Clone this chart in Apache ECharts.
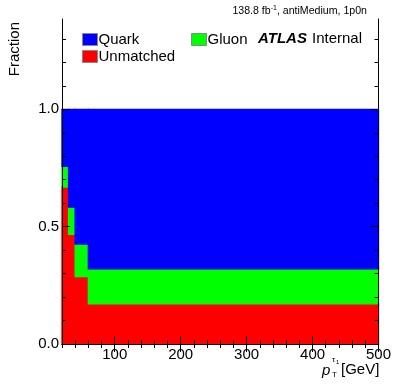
<!DOCTYPE html>
<html><head><meta charset="utf-8">
<script src="https://cdn.jsdelivr.net/npm/echarts@6/dist/echarts.min.js"></script>
<style>html,body{margin:0;padding:0;background:#fff}#c{width:394px;height:384px}</style>
</head><body><div id="c"></div>
<script>
// ---- data ----
const binEdges = [20, 30, 40, 60, 500];
const unmatched = [0.669, 0.467, 0.287, 0.171];
const gluon = [0.088, 0.117, 0.139, 0.150];
const quark = [0.243, 0.416, 0.574, 0.679];
const xMajorTicks = [100, 200, 300, 400, 500];
const xMinorTicks = [20, 40, 60, 80, 100, 120, 140, 160, 180, 200, 220, 240, 260, 280, 300, 320, 340, 360, 380, 400, 420, 440, 460, 480, 500];
const yMajorTicks = [0, 0.5, 1.0];
const yMinorTicks = [0, 0.1, 0.2, 0.3, 0.4, 0.5, 0.6, 0.7, 0.8, 0.9, 1.0, 1.1, 1.2, 1.3];
const xMin = 20, xMax = 500, yMin = 0, yMax = 1.385;

const FONT = 'Liberation Sans, Arial, sans-serif';

function stackData(layers, idx) {
  const out = [];
  for (let i = 0; i < binEdges.length - 1; i++) {
    let base = 0;
    for (let k = 0; k < idx; k++) base += layers[k][i];
    out.push([binEdges[i], binEdges[i + 1], base, base + layers[idx][i]]);
  }
  return out;
}
const layers = [unmatched, gluon, quark];

function renderBin(params, api) {
  const p0 = api.coord([api.value(0), api.value(3)]);
  const p1 = api.coord([api.value(1), api.value(2)]);
  const c = api.visual('color');
  return {
    type: 'rect',
    shape: { x: p0[0], y: p0[1], width: p1[0] - p0[0], height: p1[1] - p0[1] },
    style: { fill: c, stroke: c, lineWidth: 1.4 }
  };
}

function xAx(position, ticks, len, showLabel, showLine) {
  return {
    type: 'value', position: position, min: xMin, max: xMax,
    axisLine: { show: showLine, lineStyle: { color: '#000', width: 1 } },
    axisTick: { show: true, inside: true, length: len, customValues: ticks, lineStyle: { color: '#000' } },
    axisLabel: { show: showLabel, customValues: xMajorTicks, color: '#000', fontFamily: FONT, fontSize: 15, margin: 3 },
    splitLine: { show: false }, z: 5
  };
}
function yAx(position, ticks, len, showLabel, showLine) {
  return {
    type: 'value', position: position, min: yMin, max: yMax,
    axisLine: { show: showLine, lineStyle: { color: '#000', width: 1 } },
    axisTick: { show: true, inside: true, length: len, customValues: ticks, lineStyle: { color: '#000' } },
    axisLabel: { show: showLabel, customValues: yMajorTicks, color: '#000', fontFamily: FONT, fontSize: 15, margin: 3,
      formatter: v => v.toFixed(1) },
    splitLine: { show: false }, z: 5
  };
}

const colors = { Unmatched: '#ff0000', Gluon: '#00ff00', Quark: '#0000ff' };
const names = ['Unmatched', 'Gluon', 'Quark'];

const chart = echarts.init(document.getElementById('c'), null, { renderer: 'canvas' });
const legendBase = {
  icon: 'rect', itemWidth: 15, itemHeight: 12, itemGap: 0, padding: 0,
  itemStyle: { borderColor: '#888', borderWidth: 1 },
  textStyle: { fontFamily: FONT, fontSize: 15, color: '#000', padding: [0, 0, 0, -4] },
  selectedMode: false
};
chart.setOption({
  animation: false,
  backgroundColor: '#fff',
  grid: { left: 62, right: 15, top: 19, bottom: 40, containLabel: false },
  xAxis: [
    xAx('bottom', xMajorTicks, 8, true, true),
    xAx('bottom', xMinorTicks, 4, false, false),
    xAx('top', xMajorTicks, 8, false, true),
    xAx('top', xMinorTicks, 4, false, false)
  ],
  yAxis: [
    yAx('left', yMajorTicks, 8, true, true),
    yAx('left', yMinorTicks, 4, false, false),
    yAx('right', yMajorTicks, 8, false, true),
    yAx('right', yMinorTicks, 4, false, false)
  ],
  legend: [
    Object.assign({}, legendBase, { left: 82, top: 32, data: ['Quark'] }),
    Object.assign({}, legendBase, { left: 191, top: 32, data: ['Gluon'] }),
    Object.assign({}, legendBase, { left: 82, top: 49, data: ['Unmatched'] })
  ],
  series: names.map((n, idx) => ({
    name: n, type: 'custom', xAxisIndex: 0, yAxisIndex: 0,
    itemStyle: { color: colors[n] },
    renderItem: renderBin,
    encode: { x: [0, 1], y: [2, 3] },
    data: stackData(layers, idx),
    z: 1
  })),
  graphic: [
    { type: 'text', left: 258, top: 31, style: { text: 'ATLAS', font: 'italic bold 15px ' + FONT, fill: '#000' } },
    { type: 'text', left: 312, top: 31, style: { text: 'Internal', font: '15px ' + FONT, fill: '#000' } },
    { type: 'text', right: 27, top: 5, style: {
      text: '138.8 fb{sup|-1}, antiMedium, 1p0n', font: '10.6px ' + FONT, fill: '#000',
      rich: { sup: { fontSize: 7, verticalAlign: 'top', padding: [0, 0, 5, 0], fontFamily: FONT } } } },
    { type: 'text', left: 7, top: 22, rotation: Math.PI / 2, style: { text: 'Fraction', font: '15px ' + FONT, fill: '#000' } },
    { type: 'text', left: 322, top: 363, style: { text: 'p', font: 'italic 15px ' + FONT, fill: '#000' } },
    { type: 'text', left: 332, top: 356, style: { text: 'τ', font: '8px ' + FONT, fill: '#000' } },
    { type: 'text', left: 336, top: 359, style: { text: '1', font: '6px ' + FONT, fill: '#000' } },
    { type: 'text', left: 332, top: 371, style: { text: 'T', font: '8px ' + FONT, fill: '#000' } },
    { type: 'text', left: 341, top: 362, style: { text: '[GeV]', font: '15px ' + FONT, fill: '#000' } }
  ]
});
</script></body></html>
